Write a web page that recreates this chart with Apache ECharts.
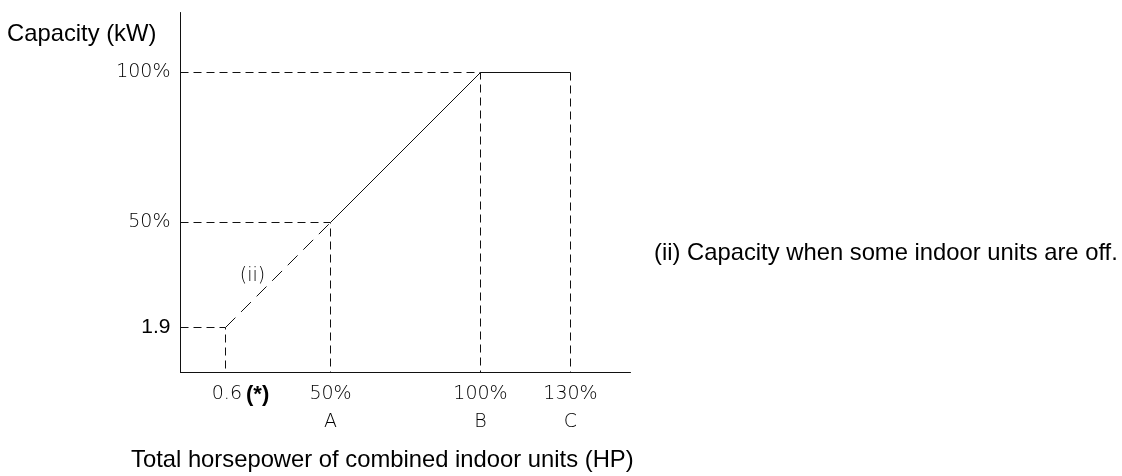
<!DOCTYPE html>
<html>
<head>
<meta charset="utf-8">
<script src="https://cdn.jsdelivr.net/npm/echarts@6/dist/echarts.min.js"></script>
<style>
  html, body { margin: 0; padding: 0; background: #fff; }
  #chart { width: 1122px; height: 476px; }
</style>
</head>
<body>
<div id="chart"></div>
<script>
// both axes are in % of rated (0.6 HP / 1.9 kW sit at about 15%)
const hpPoints = [15, 50, 100, 130];
const capPoints = [15, 50, 100, 100];

const xTickValues = [15, 50, 100, 130];
const xTickTop = ['0.6', '50%', '100%', '130%'];
const xTickBottom = ['', 'A', 'B', 'C'];

const yTickValues = [15, 50, 100];
const yTickLabels = ['1.9', '50%', '100%'];

const offNote = '(ii)';
const offNoteAt = [24, 32];

const cadFont = 'DejaVu Sans';
const textFont = 'Liberation Sans';
const ink = '#111';

const chart = echarts.init(document.getElementById('chart'));

// dashed guides from each knee point to both axes
const guideSeries = [];
hpPoints.forEach(function (x, i) {
    const y = capPoints[i];
    const pts = (i === hpPoints.length - 1) ? [[x, y], [x, 0]] : [[0, y], [x, y], [x, 0]];
    guideSeries.push({
        type: 'line',
        data: pts,
        symbol: 'none',
        silent: true,
        lineStyle: { color: ink, width: 1, type: [8, 5] },
        z: 1
    });
});

const toXY = function (i) { return [hpPoints[i], capPoints[i]]; };

const titleStyle = { fontFamily: textFont, fontSize: 23.8, fontWeight: 'normal', color: '#000' };

const option = {
    backgroundColor: '#fff',
    animation: false,
    title: [
        { text: 'Capacity (kW)', left: 7, top: 22, padding: 0, textStyle: titleStyle },
        { text: 'Total horsepower of combined indoor units (HP)', left: 131, top: 448, padding: 0, textStyle: titleStyle },
        { text: '(ii) Capacity when some indoor units are off.', left: 654, top: 241, padding: 0, textStyle: titleStyle }
    ],
    // half-pixel offsets keep the 1px guides crisp
    grid: { left: 180.5, top: 12.5, width: 450, height: 360 },
    xAxis: {
        type: 'value',
        min: 0, max: 150,
        splitLine: { show: false },
        axisTick: { show: false },
        axisLine: { lineStyle: { color: ink, width: 1 } },
        axisLabel: {
            customValues: xTickValues,
            margin: 8,
            formatter: function (v) {
                const i = xTickValues.indexOf(v);
                if (i === 0) {
                    return '{s|}{n|' + xTickTop[i] + '}{b|(*)}';
                }
                return '{n|' + xTickTop[i] + '}\n{n|' + xTickBottom[i] + '}';
            },
            rich: {
                n: { fontFamily: cadFont, fontWeight: 200, fontSize: 19, color: '#000', lineHeight: 28 },
                b: { fontFamily: textFont, fontWeight: 'bold', fontSize: 22, color: '#000', lineHeight: 28, padding: [0, 0, 0, 4] },
                s: { width: 30, lineHeight: 28 }
            }
        }
    },
    yAxis: {
        type: 'value',
        min: 0, max: 120,
        splitLine: { show: false },
        axisTick: { show: false },
        axisLine: { lineStyle: { color: ink, width: 1 } },
        axisLabel: {
            customValues: yTickValues,
            margin: 10,
            formatter: function (v) {
                const i = yTickValues.indexOf(v);
                return i === 0 ? '{k|' + yTickLabels[i] + '}' : '{n|' + yTickLabels[i] + '}';
            },
            rich: {
                n: { fontFamily: cadFont, fontWeight: 200, fontSize: 19, color: '#000' },
                k: { fontFamily: textFont, fontSize: 21, color: '#000' }
            }
        }
    },
    series: guideSeries.concat([
        {
            // (ii) some indoor units off
            type: 'line',
            data: [toXY(0), toXY(1)],
            symbol: 'none',
            silent: true,
            lineStyle: { color: ink, width: 1, type: [14, 8] },
            z: 3,
            markPoint: {
                symbol: 'circle',
                symbolSize: 0,
                data: [{ coord: offNoteAt }],
                label: {
                    show: true,
                    formatter: offNote,
                    color: '#000',
                    fontFamily: cadFont,
                    fontWeight: 200,
                    fontSize: 19
                }
            }
        },
        {
            type: 'line',
            data: [toXY(1), toXY(2), toXY(3)],
            symbol: 'none',
            silent: true,
            lineStyle: { color: ink, width: 1 },
            z: 3
        }
    ])
};

chart.setOption(option);
</script>
</body>
</html>
